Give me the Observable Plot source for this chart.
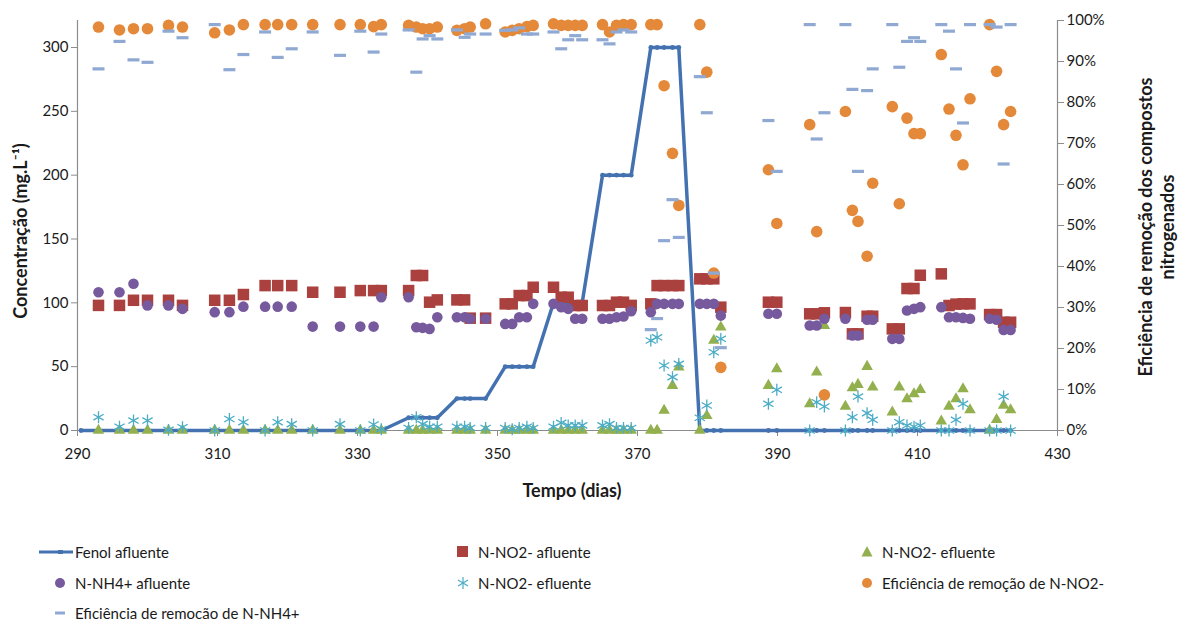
<!DOCTYPE html>
<html><head><meta charset="utf-8">
<script src="https://cdn.jsdelivr.net/npm/d3@7"></script>
<script src="https://cdn.jsdelivr.net/npm/@observablehq/plot@0.6"></script>
<style>
body{margin:0;background:#fff;font-family:Lato,"Open Sans",sans-serif;}
#wrap{position:relative;width:1185px;height:621px;overflow:hidden;background:#fff}
#legend{position:absolute;left:0;top:0;width:1185px;height:621px;pointer-events:none}
.lt{position:absolute;font-size:15px;line-height:20px;color:#1a1a1a;white-space:nowrap;font-family:Lato,sans-serif}
.ls{position:absolute;width:36px;height:20px}
</style></head><body>
<div id="wrap"><div id="chart"></div><div id="legend"></div></div>
<script>
// ---------- data ----------
const days = [293, 296, 298, 300, 303, 305, 309.6, 311.7, 313.7, 316.8, 318.6, 320.6, 323.6, 327.5, 330.4, 332.3, 333.4,
  337.3, 338.4, 339.3, 340.3, 341.4, 344.2, 345.3, 346.1, 348.3, 351.1, 352.1, 353.1, 354.2, 355.1, 358, 359.1, 360.1, 361.1, 362.1,
  365, 366, 367, 368, 369.1, 371.9, 372.8, 373.8, 375, 375.9, 378.9, 379.9, 380.9, 381.9,
  388.7, 389.9, 394.6, 395.6, 396.7, 399.7, 400.7, 401.5, 402.8, 403.6, 406.4, 407.4, 408.5, 409.5, 410.4,
  413.4, 414.5, 415.5, 416.5, 417.5, 420.3, 421.3, 422.3, 423.3];

const fenolDays = [290.5, ...days];
const fenolAfluente = [0,
  0,0,0,0,0,0,0,0,0,0,0,0,0,0,0,0,0,
  10,10,10,10,10, 25,25,25,25, 50,50,50,50,50, 100,100,100,100,100,
  200,200,200,200,200, 300,300,300,300,300, 0,0,0,0,
  0,0,0,0,0,0,0,0,0,0,0,0,0,0,0,0,0,0,0,0,0,0,0,0];

const no2Afluente = [98, 98, 102, 102, 102, 98, 102, 102, 106.5, 113.5, 113.5, 113.5, 108.3, 108.3, 109.6, 109.6, 109.6,
  109.6, 121.4, 121.4, 100.5, 102.3, 102.3, 102.3, 88, 88, 99.2, 99.2, 105.7, 105.7, 112.2, 112.2, 104.4, 104.4, 97.9, 97.9,
  97.9, 97.9, 100.5, 100.5, 98, 99.2, 113.5, 113.5, 113.5, 113.5, 118.8, 118.8, 118.8, 96.6,
  100.5, 100.5, 91.4, 91.4, 92.2, 92.4, 75.7, 75.7, 89.5, 89.5, 79.6, 79.6, 111.2, 111.2, 121.6,
  122.7, 97.9, 99, 99.2, 99.2, 90.8, 90.8, 84.8, 84.8];

const nh4Afluente = [108.3, 108.3, 114.9, 98, 98, 95.3, 92.7, 92.7, 97, 97, 97, 97, 81.4, 81.4, 81.4, 81.4, 104.4,
  104.4, 80.9, 80.4, 79.6, 88.7, 88.7, 88.7, 87.5, 87.5, 83.5, 83.5, 88.7, 88.7, 99.2, 99.2, 96.6, 95.3, 87.5, 87.5,
  87.5, 87.5, 88.7, 89.3, 93.4, 92.7, 99.2, 99.2, 99.2, 99.2, 99.2, 99.2, 99.2, 90,
  91.4, 91.4, 82.2, 82.2, 87.5, 87.5, 74.4, 74.4, 86.7, 86.7, 71.8, 71.8, 94, 95.3, 96.6,
  96.6, 88.7, 88.7, 88.2, 87.5, 87.5, 86.7, 78.8, 78.8];

const no2EfluenteTri = [0,0,0,0,0,0,0,0,0,0,0,0,0,0,0,0,0,
  0,0,0,0,0, 0,0,0,0, 0,0,0,0,0, 0,0,0,0,0,
  0,0,0,0,0, 0,0,15.7,35.2,49.6, 0,11.7,70.5,80.9,
  35.2, 48.3, 20.9, 45.7, 82.2, 18.8, 33.4, 36, 50.1, 33.9, 14.4, 33.9, 24.8, 28.7, 31.9,
  7.3, 18.8, 24.8, 32.6, 16.2, 0, 8.4, 19.6, 16.2];

const no2EfluenteAst = [10.4, 3, 7.8, 7.8, 0.5, 2.6, 0, 9, 6.5, 0, 6.5, 5, 0, 5, 0, 4.7, 1,
  2, 10.4, 5, 3, 3, 3, 3, 2, 2, 2, 1, 2, 3, 2, 3, 6, 4, 4, 4,
  4, 5, 2, 2, 2, 70.5, 73, 50.9, 41.8, 52.2, 10, 19.6, 61.3, 71.8,
  20.9, 31.9, 0, 22.2, 18.8, 0, 10.4, 26.6, 13.6, 8.4, 0, 6.5, 3.9, 3, 3.9,
  0, 0, 8.4, 20.9, 0, 0, 0, 26.6, 0];

const effNO2 = [98.4, 97.7, 98, 98, 98.8, 98.4, 97, 97.7, 99, 99, 99, 99, 99, 99, 99, 98.5, 99,
  98.8, 98.4, 98, 98, 98.4, 97.6, 98, 98.4, 99.2, 97.2, 97.6, 98, 98.5, 98.8, 99.2, 98.8, 98.8, 98.8, 98.8,
  99, 97.2, 98.8, 99, 99, 99, 99, 84.1, 67.6, 54.9, 99, 87.4, 38.4, 15.4,
  63.6, 50.5, 74.6, 48.5, 8.7, 77.8, 53.7, 51, 42.5, 60.3, 79, 55.3, 76.2, 72.4, 72.4,
  91.7, 78.4, 72, 64.8, 80.9, 99, 87.6, 74.6, 77.8];

const effNH4 = [88.2, 94.9, 90.4, 89.8, 97.4, 95.8, 99, 88, 91.7, 97.2, 91, 93.1, 97.2, 91.5, 97.4, 92.3, 96.7,
  97.7, 87.4, 95.5, 96.3, 95.5, 97.7, 95.9, 96.7, 96.7, 97.6, 97.7, 98.2, 96.7, 96.7, 97.2, 93.1, 95.3, 96.3, 95.3,
  95.3, 94.3, 97.2, 97.7, 97.2, 24.6, 27.3, 46.3, 56.3, 47.1, 86.3, 77.5, 38.4, 20.2,
  75.6, 63.2, 99, 71.1, 77.5, 99, 83.2, 63.2, 82.9, 88.2, 99, 88.6, 94.9, 95.8, 94.9,
  99, 97.4, 88.2, 75, 99, 99, 98.4, 65, 99];

const xTicks = [290, 310, 330, 350, 370, 390, 410, 430];
const yTicksLeft = [0, 50, 100, 150, 200, 250, 300];
const yTicksRightPct = [0, 10, 20, 30, 40, 50, 60, 70, 80, 90, 100];

// ---------- chart ----------
const YMAX = 321.15;           // left-axis value at the top of the frame
const K = YMAX / 100;          // maps the secondary (%) axis onto the left scale

const rows = days.map((d, i) => ({
  d, no2a: no2Afluente[i], nh4: nh4Afluente[i], tri: no2EfluenteTri[i], ast: no2EfluenteAst[i],
  eNO2: effNO2[i] * K, eNH4: effNH4[i] * K
}));
const fenolRows = fenolDays.map((d, i) => ({d, v: fenolAfluente[i]}));

const dashSymbol = {draw(ctx) { ctx.rect(-6, -1.6, 12, 3.2); }};

const C = {
  fenol: "#4472B0", sq: "#AA413E", tri: "#93B04F", nh4: "#775A9D",
  ast: "#4BACC6", orange: "#E4893A", dash: "#8FA9D3", axis: "#8c8c8c", text: "#1a1a1a"
};

const chart = Plot.plot({
  width: 1185, height: 525,
  marginLeft: 77, marginRight: 128, marginTop: 20, marginBottom: 95,
  x: {domain: [290, 430]},
  y: {domain: [0, YMAX]},
  style: {fontFamily: "Lato, sans-serif", fontSize: "15px", color: C.text, background: "white", overflow: "visible"},
  marks: [
    Plot.ruleY([0], {stroke: C.axis, strokeWidth: 1.2}),
    Plot.ruleX([290, 430], {y1: 0, y2: YMAX, stroke: C.axis, strokeWidth: 1.2}),
    Plot.axisX({ticks: xTicks, tickSize: 6, tickPadding: 12, label: null, stroke: C.axis, fill: C.text, tickFormat: d => String(d)}),
    Plot.axisY({ticks: yTicksLeft, tickSize: 6, tickPadding: 3, label: null, stroke: C.axis, fill: C.text}),
    Plot.axisY({anchor: "right", ticks: yTicksRightPct.map(p => p * K), tickFormat: v => Math.round(v / K) + "%",
      tickSize: 6, tickPadding: 3, label: null, stroke: C.axis, fill: C.text}),
    Plot.line(fenolRows, {x: "d", y: "v", stroke: C.fenol, strokeWidth: 3.5}),
    Plot.dot(fenolRows, {x: "d", y: "v", r: 2.4, fill: C.fenol}),
    Plot.dot(rows, {x: "d", y: "no2a", symbol: "square", r: 6.5, fill: C.sq}),
    Plot.dot(rows, {x: "d", y: "tri", symbol: "triangle", r: 4.3, fill: C.tri}),
    Plot.dot(rows, {x: "d", y: "nh4", r: 5.3, fill: C.nh4}),
    Plot.dot(rows, {x: "d", y: "ast", symbol: "asterisk", r: 5.6, stroke: C.ast, strokeWidth: 1.3, fill: "none"}),
    Plot.dot(rows, {x: "d", y: "eNO2", r: 5.8, fill: C.orange}),
    Plot.dot(rows, {x: "d", y: "eNH4", symbol: dashSymbol, fill: C.dash})
  ]
});
document.getElementById("chart").appendChild(chart);

// axis titles
const svg = d3.select(chart);
function title(tx, ty, rot, txt) {
  svg.append("text")
    .attr("transform", `translate(${tx},${ty}) rotate(${rot})`)
    .attr("text-anchor", "middle").attr("dominant-baseline", "middle")
    .attr("font-family", "Lato, sans-serif").attr("font-weight", "bold").attr("font-size", 18)
    .attr("fill", C.text).text(txt);
}
title(22, 231, -90, "Concentração (mg.L⁻¹)");
title(572, 492, 0, "Tempo (dias)");
title(1147, 227, -90, "Eficiência de remoção dos compostos");
title(1169, 227, -90, "nitrogenados");

// ---------- legend ----------
const legendItems = [
  {label: "Fenol afluente", kind: "line", col: 0, row: 0},
  {label: "N-NO2- afluente", kind: "square", col: 1, row: 0},
  {label: "N-NO2- efluente", kind: "triangle", col: 2, row: 0},
  {label: "N-NH4+ afluente", kind: "circle", col: 0, row: 1},
  {label: "N-NO2- efluente", kind: "asterisk", col: 1, row: 1},
  {label: "Eficiência de remoção de N-NO2-", kind: "orange", col: 2, row: 1},
  {label: "Eficiência de remocão de N-NH4+", kind: "dash", col: 0, row: 2}
];
const colText = [75, 478, 882];
const rowY = [552, 583, 613];
const shapes = {
  line: `<line x1="0" x2="34" y1="10" y2="10" stroke="${C.fenol}" stroke-width="3"/><rect x="19" y="8" width="5" height="4" fill="${C.fenol}"/>`,
  square: `<rect x="15" y="4" width="11" height="11" fill="${C.sq}"/>`,
  triangle: `<path d="M21,4 L26.5,14.5 L15.5,14.5 Z" fill="${C.tri}"/>`,
  circle: `<circle cx="21" cy="10" r="5" fill="${C.nh4}"/>`,
  asterisk: `<g stroke="${C.ast}" stroke-width="1.2"><line x1="21" x2="21" y1="4" y2="16"/><line x1="16" x2="26" y1="7" y2="13"/><line x1="16" x2="26" y1="13" y2="7"/></g>`,
  orange: `<circle cx="21" cy="10" r="5" fill="${C.orange}"/>`,
  dash: `<rect x="16" y="8.5" width="10" height="3" fill="${C.dash}"/>`
};
const legend = document.getElementById("legend");
legendItems.forEach(it => {
  const x = colText[it.col], y = rowY[it.row];
  const s = document.createElement("div");
  s.className = "ls";
  s.style.left = (x - 36) + "px"; s.style.top = (y - 10) + "px";
  s.innerHTML = `<svg width="36" height="20" viewBox="0 0 36 20">${shapes[it.kind]}</svg>`;
  legend.appendChild(s);
  const t = document.createElement("div");
  t.className = "lt"; t.textContent = it.label;
  t.style.left = x + "px"; t.style.top = (y - 10) + "px";
  legend.appendChild(t);
});
</script>
</body></html>
